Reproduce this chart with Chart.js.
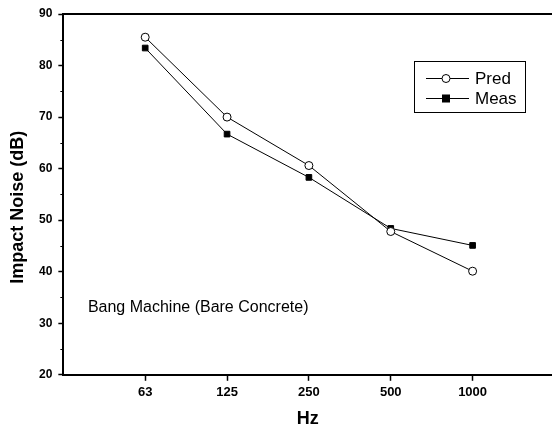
<!DOCTYPE html>
<html>
<head>
<meta charset="utf-8">
<script src="https://cdn.jsdelivr.net/npm/chart.js@4.4.0/dist/chart.umd.min.js"></script>
<style>
  html, body { margin: 0; padding: 0; background: #fff; }
  #wrap { width: 552px; height: 430px; position: relative; }
</style>
</head>
<body>
<div id="wrap"><canvas id="myChart"></canvas></div>
<script>
// data
const freqLabels = ['63', '125', '250', '500', '1000'];
const predValues = [85.5, 70.0, 60.6, 47.8, 40.1];
const measValues = [83.4, 66.7, 58.3, 48.4, 45.1];
const yTicks = [20, 30, 40, 50, 60, 70, 80, 90];

const FONT = "'Liberation Sans', Arial, sans-serif";

function toPoints(vals) {
    return vals.map((v, i) => ({ x: i, y: v }));
}

// top frame line, minor y ticks, y title, note text and legend box
const extras = {
    id: 'extras',
    afterDraw(chart) {
        const c = chart.ctx;
        const a = chart.chartArea;
        const y = chart.scales.y;
        const x = chart.scales.x;
        c.save();
        c.strokeStyle = '#000';
        c.lineWidth = 2;
        c.beginPath();
        c.moveTo(a.left - 1, a.top);
        c.lineTo(a.right, a.top);
        c.stroke();

        // minor ticks
        c.lineWidth = 1;
        for (let v = yTicks[0] + 5; v < yTicks[yTicks.length - 1]; v += 10) {
            const py = Math.round(y.getPixelForValue(v)) + 0.5;
            c.beginPath();
            c.moveTo(a.left - 3, py);
            c.lineTo(a.left, py);
            c.stroke();
        }

        // y title (sits a bit below the middle in the original)
        c.save();
        c.translate(18, y.getPixelForValue(52.5));
        c.rotate(-Math.PI / 2);
        c.fillStyle = '#000';
        c.font = 'bold 18px ' + FONT;
        c.textAlign = 'center';
        c.textBaseline = 'middle';
        c.fillText('Impact Noise (dB)', 0, 0);
        c.restore();

        // note
        c.fillStyle = '#000';
        c.font = '16px ' + FONT;
        c.textAlign = 'left';
        c.textBaseline = 'middle';
        c.fillText('Bang Machine (Bare Concrete)', x.getPixelForValue(-0.7), y.getPixelForValue(33));

        // legend
        const bx = 414, by = 61, bw = 111, bh = 51;
        c.lineWidth = 1;
        c.strokeRect(bx + 0.5, by + 0.5, bw, bh);
        const rows = [
            { label: 'Pred', ds: chart.data.datasets[0] },
            { label: 'Meas', ds: chart.data.datasets[1] }
        ];
        rows.forEach((r, i) => {
            const ry = by + 17 + i * 20 + 0.5;
            c.strokeStyle = '#000';
            c.lineWidth = 1;
            c.beginPath();
            c.moveTo(bx + 12, ry);
            c.lineTo(bx + 55, ry);
            c.stroke();
            const mx = bx + 32;
            if (r.ds.pointStyle === 'circle') {
                c.fillStyle = '#fff';
                c.beginPath();
                c.arc(mx, ry, 4, 0, Math.PI * 2);
                c.fill();
                c.stroke();
            } else {
                c.fillStyle = '#000';
                c.fillRect(mx - 4, ry - 4, 8, 8);
            }
            c.fillStyle = '#000';
            c.font = '17px ' + FONT;
            c.textAlign = 'left';
            c.fillText(r.label, bx + 61, ry + 1);
        });
        c.restore();
    }
};

const ctx = document.getElementById('myChart');
const myChart = new Chart(ctx, {
    type: 'line',
    data: {
        datasets: [{
            label: 'Pred',
            data: toPoints(predValues),
            borderColor: '#000',
            borderWidth: 1,
            pointStyle: 'circle',
            pointRadius: 4,
            pointBackgroundColor: '#fff',
            pointBorderColor: '#000',
            pointBorderWidth: 1,
            tension: 0
        }, {
            label: 'Meas',
            data: toPoints(measValues),
            borderColor: '#000',
            borderWidth: 1,
            pointStyle: 'rect',
            pointRadius: 4,
            pointBackgroundColor: '#000',
            pointBorderColor: '#000',
            pointBorderWidth: 1,
            tension: 0
        }]
    },
    options: {
        responsive: true,
        maintainAspectRatio: false,
        animation: false,
        layout: { autoPadding: false, padding: { left: 33, right: 0, top: 14, bottom: 0 } },
        plugins: {
            legend: { display: false },
            tooltip: { enabled: false }
        },
        scales: {
            x: {
                type: 'linear',
                min: -1,
                max: 4.97,
                afterBuildTicks(axis) {
                    axis.ticks = freqLabels.map((l, i) => ({ value: i }));
                },
                ticks: {
                    autoSkip: false,
                    maxRotation: 0,
                    color: '#000',
                    font: { family: FONT, size: 13, weight: 'bold' },
                    padding: 4,
                    callback: (v) => freqLabels[v]
                },
                grid: { drawOnChartArea: false, tickLength: 6, color: '#000', tickWidth: 1.5 },
                border: { display: true, color: '#000', width: 2 },
                title: {
                    display: true,
                    text: 'Hz',
                    color: '#000',
                    font: { family: FONT, size: 18, weight: 'bold' },
                    padding: { top: 4, bottom: 0 }
                }
            },
            y: {
                min: 20,
                max: 90,
                afterBuildTicks(axis) {
                    axis.ticks = yTicks.map((v) => ({ value: v }));
                },
                ticks: {
                    autoSkip: false,
                    color: '#000',
                    font: { family: FONT, size: 12, weight: 'bold' },
                    padding: 6,
                    callback: (v) => String(v)
                },
                grid: {
                    drawOnChartArea: false,
                    tickLength: 5,
                    color: '#000',
                    tickWidth: 1.5
                },
                border: { display: true, color: '#000', width: 2 }
            }
        }
    },
    plugins: [extras]
});
</script>
</body>
</html>
